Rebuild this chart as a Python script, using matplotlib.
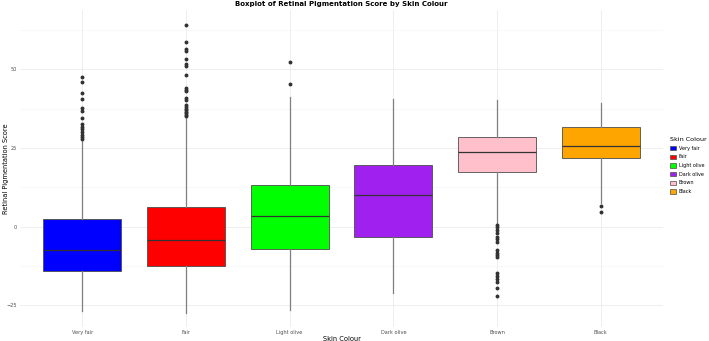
import matplotlib.pyplot as plt
from matplotlib.patches import Patch

categories = ['Very fair', 'Fair', 'Light olive', 'Dark olive', 'Brown', 'Black']
colours = ['#0000FF', '#FF0000', '#00FF00', '#A020F0', '#FFC0CB', '#FFA500']

# box statistics
q1 = [-14.2, -12.5, -7.1, -3.3, 17.5, 21.7]
med = [-7.3, -4.3, 3.3, 10.1, 23.6, 25.6]
q3 = [2.5, 6.2, 13.1, 19.7, 28.4, 31.5]
whislo = [-26.8, -27.3, -26.5, -21.2, 1.1, 7.5]
whishi = [27.4, 34.6, 41.3, 40.6, 40.3, 39.2]
outliers = [
    [47.4, 46.1, 42.4, 40.5, 37.7, 36.8, 34.5, 32.7, 31.8, 31.0, 30.2, 29.2, 28.5, 27.8],
    [64.1, 58.8, 56.3, 55.9, 53.2, 51.6, 51.1, 48.3, 44.0, 43.4, 43.0, 40.8, 40.3,
     38.6, 38.1, 37.5, 37.0, 36.5, 36.0, 35.6, 35.1],
    [52.2, 45.2],
    [],
    [0.5, -0.1, -1.0, -2.1, -3.2, -4.0, -4.8, -7.4, -8.3, -9.0, -9.7,
     -14.8, -15.7, -16.5, -17.5, -19.6, -22.0],
    [6.6, 4.8],
]

stats = []
for i, name in enumerate(categories):
    stats.append(dict(label=name, q1=q1[i], med=med[i], q3=q3[i],
                      whislo=whislo[i], whishi=whishi[i], fliers=outliers[i]))

fig = plt.figure(figsize=(7.09, 3.41), dpi=100)
ax = fig.add_axes([0.0282, 0.041, 0.907, 0.9285])

bp = ax.bxp(stats, positions=range(1, 7), widths=0.75, patch_artist=True,
            showcaps=False,
            boxprops=dict(edgecolor='#4d4d4d', linewidth=0.6),
            medianprops=dict(color='#333333', linewidth=0.9),
            whiskerprops=dict(color='#7f7f7f', linewidth=0.9),
            flierprops=dict(marker='o', markersize=1.8, markerfacecolor='#333333',
                            markeredgecolor='#333333'))
for box, c in zip(bp['boxes'], colours):
    box.set_facecolor(c)

ax.set_xlim(0.4, 6.6)
ax.set_ylim(-31.9, 68.7)
ax.set_yticks([-25, 0, 25, 50])
ax.set_yticks([-12.5, 12.5, 37.5, 62.5], minor=True)
ax.set_xticks(range(1, 7))
ax.set_xticklabels(categories)
ax.tick_params(axis='both', which='both', length=0, labelsize=3.6, colors='#4d4d4d', pad=2)
ax.grid(True, which='major', color='#ebebeb', linewidth=0.6)
ax.grid(True, which='minor', axis='y', color='#f3f3f3', linewidth=0.4)
ax.set_axisbelow(True)
for s in ax.spines.values():
    s.set_visible(False)

ax.set_xlabel('Skin Colour', fontsize=4.8, labelpad=1)
ax.set_ylabel('Retinal Pigmentation Score', fontsize=4.8)
ax.yaxis.set_label_coords(-0.0175, 0.5)
ax.set_title('Boxplot of Retinal Pigmentation Score by Skin Colour',
             fontsize=5, fontweight='bold', pad=3)

handles = [Patch(facecolor=c, edgecolor='#4d4d4d', linewidth=0.5) for c in colours]
leg = fig.legend(handles, categories, title='Skin Colour', loc='upper left',
                 bbox_to_anchor=(0.942, 0.605), frameon=False, fontsize=3.5,
                 title_fontsize=4.6, handlelength=1.2, handleheight=1.0,
                 labelspacing=0.75, handletextpad=0.5, borderpad=0)
leg._legend_box.align = 'left'

fig.savefig('out.png', dpi=100)
